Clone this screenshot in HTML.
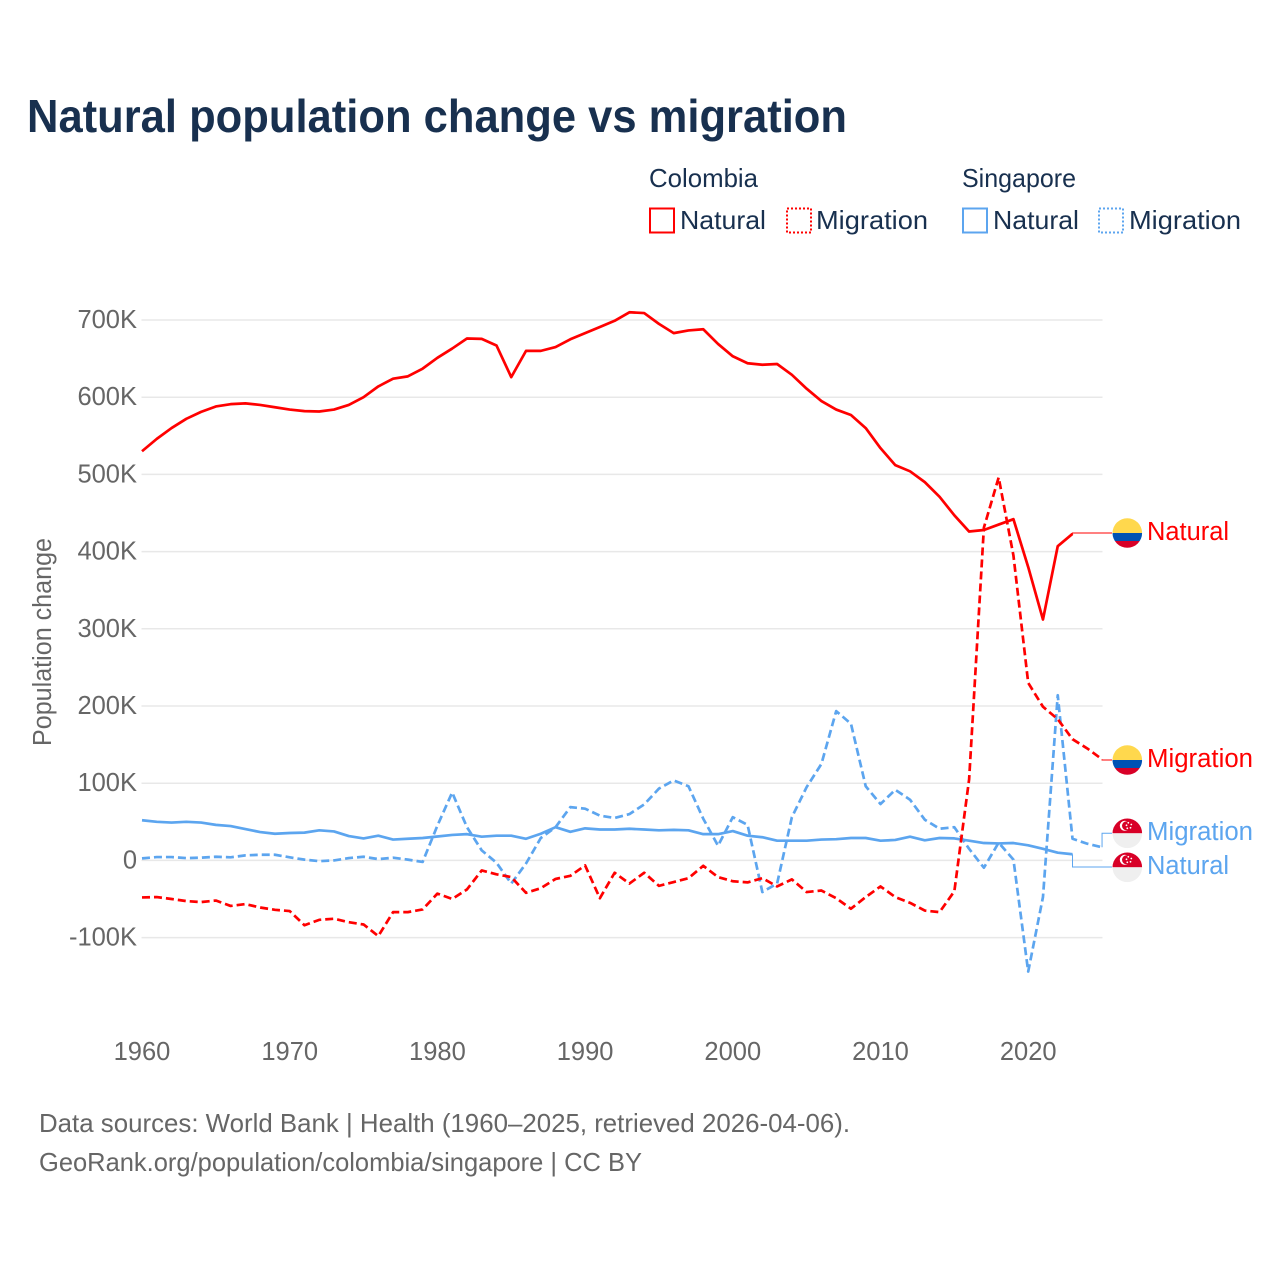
<!DOCTYPE html>
<html lang="en">
<head>
<meta charset="utf-8">
<title>Natural population change vs migration</title>
<style>
html,body{margin:0;padding:0;background:#fff;width:1280px;height:1280px;overflow:hidden}
svg{display:block}
text{font-family:"Liberation Sans",Arial,sans-serif}
.leg{fill:#18304f;font-size:26px}
.tick{fill:#666;font-size:25.5px}
.foot{fill:#666;font-size:26px}
</style>
</head>
<body>
<svg id="chart" xmlns="http://www.w3.org/2000/svg" width="1280" height="1280" viewBox="0 0 1280 1280">
  <defs>
    <clipPath id="flag-clip"><circle cx="0" cy="0" r="14.8"/></clipPath>
    <g id="flag-co">
      <g clip-path="url(#flag-clip)">
        <rect x="-15" y="-15" width="30" height="15" fill="#ffd84d"/>
        <rect x="-15" y="0" width="30" height="8" fill="#0052b4"/>
        <rect x="-15" y="8" width="30" height="7" fill="#d80027"/>
      </g>
    </g>
    <g id="flag-sg">
      <g clip-path="url(#flag-clip)">
        <rect x="-15" y="-15" width="30" height="15" fill="#d80027"/>
        <rect x="-15" y="0" width="30" height="15" fill="#efefef"/>
        <circle cx="-2.5" cy="-7.5" r="5" fill="#fff"/>
        <circle cx="-0.8" cy="-7.5" r="4.5" fill="#d80027"/>
        <circle cx="1" cy="-10.5" r="0.9" fill="#fff"/>
        <circle cx="4" cy="-8.8" r="0.9" fill="#fff"/>
        <circle cx="3.2" cy="-5.5" r="0.9" fill="#fff"/>
        <circle cx="0" cy="-5" r="0.9" fill="#fff"/>
        <circle cx="-0.8" cy="-8" r="0.9" fill="#fff"/>
      </g>
    </g>
  </defs>

  <text x="27" y="132" font-size="46" font-weight="700" fill="#18304f" textLength="820" lengthAdjust="spacingAndGlyphs">Natural population change vs migration</text>

  <g>
    <text class="leg" x="649" y="187" textLength="109" lengthAdjust="spacingAndGlyphs">Colombia</text>
    <text class="leg" x="962" y="187" textLength="114" lengthAdjust="spacingAndGlyphs">Singapore</text>
    <g>
      <rect x="650" y="208.5" width="24" height="24" fill="none" stroke="#ff0000" stroke-width="2"/>
      <text class="leg" x="680" y="229" textLength="86" lengthAdjust="spacingAndGlyphs">Natural</text>
    </g>
    <g>
      <rect x="787" y="208.5" width="24" height="24" fill="none" stroke="#ff0000" stroke-width="2" stroke-dasharray="2 2"/>
      <text class="leg" x="816" y="229" textLength="112" lengthAdjust="spacingAndGlyphs">Migration</text>
    </g>
    <g>
      <rect x="963" y="208.5" width="24" height="24" fill="none" stroke="#5ca5ef" stroke-width="2"/>
      <text class="leg" x="993" y="229" textLength="86" lengthAdjust="spacingAndGlyphs">Natural</text>
    </g>
    <g>
      <rect x="1099" y="208.5" width="24" height="24" fill="none" stroke="#5ca5ef" stroke-width="2" stroke-dasharray="2 2"/>
      <text class="leg" x="1129" y="229" textLength="112" lengthAdjust="spacingAndGlyphs">Migration</text>
    </g>
  </g>

  <g id="grid"></g>
  <g id="y-ticks"></g>
  <g id="x-ticks"></g>
  <text transform="translate(51,746) rotate(-90)" x="0" y="0" font-size="25.5" fill="#666" textLength="208" lengthAdjust="spacingAndGlyphs">Population change</text>

  <g id="connectors"></g>
  <g id="series"></g>

  <g>
    <use href="#flag-co" x="1127.3" y="533"/>
    <text x="1147" y="540" font-size="25.5" fill="#ff0000" textLength="82" lengthAdjust="spacingAndGlyphs">Natural</text>
  </g>
  <g>
    <use href="#flag-co" x="1127.3" y="760"/>
    <text x="1147" y="767" font-size="25.5" fill="#ff0000" textLength="106" lengthAdjust="spacingAndGlyphs">Migration</text>
  </g>
  <g>
    <use href="#flag-sg" x="1127.3" y="833.3"/>
    <text x="1147" y="840" font-size="25.5" fill="#5ca5ef" textLength="106" lengthAdjust="spacingAndGlyphs">Migration</text>
  </g>
  <g>
    <use href="#flag-sg" x="1127.3" y="867.3"/>
    <text x="1147" y="874" font-size="25.5" fill="#5ca5ef" textLength="82" lengthAdjust="spacingAndGlyphs">Natural</text>
  </g>

  <text class="foot" x="39" y="1132" textLength="811" lengthAdjust="spacingAndGlyphs">Data sources: World Bank | Health (1960–2025, retrieved 2026-04-06).</text>
  <text class="foot" x="39" y="1171" textLength="603" lengthAdjust="spacingAndGlyphs">GeoRank.org/population/colombia/singapore | CC BY</text>
</svg>
<script>
const firstYear = 1960;
const yTickValues = [-100, 0, 100, 200, 300, 400, 500, 600, 700];
const yTickLabels = ['-100K', '0', '100K', '200K', '300K', '400K', '500K', '600K', '700K'];
const xTickValues = [1960, 1970, 1980, 1990, 2000, 2010, 2020];
const xTickLabels = ['1960', '1970', '1980', '1990', '2000', '2010', '2020'];

// Values in thousands, one per year starting at firstYear
const colombiaNatural = [530,546,560,572,581,588,591,592,590,587,584,582,581.5,584,590,600,614,624,627,637,651,663,676,675.5,667,626,660,660,665,675,683,691,699,710,709,695,683,686.5,688,669,653,644,642,643,629,611,595,584,577,560,534,512,504,490,471,447,426,428,435,442,380,312,407,423];
const colombiaMigration = [-48,-47.5,-50,-52.7,-54,-52,-59,-56.6,-61,-64,-65.6,-84,-77,-75.6,-80,-83,-98,-67,-67,-63.5,-43,-50,-37.6,-13,-18,-21.6,-42,-36,-24,-20,-6.5,-49,-16,-30,-16,-33,-28,-23,-7,-21.6,-27,-28.5,-23,-33.7,-24.6,-41,-39,-49,-62.6,-47.5,-33.7,-47.5,-55,-65,-67,-40,105,431,496,395,230,199,183,157,145,131];
const singaporeNatural = [52,50,49,50,49,46,44.5,40.6,36.7,34.5,35.5,36,39,37.5,31.5,28.5,32,27,28,29,31,33,34,30.7,32,32,28,34.5,43,37,41.5,40,40,41,40,39,39.5,39,34,34,38,32,30,25.5,25.5,25.5,27,27.5,29,29,25.5,26.5,30.7,26,29,28.5,25.5,22.5,22,22.5,19.5,15,10,8];
const singaporeMigration = [2.6,4.3,4.3,3,3.5,4.7,4,6.5,7.3,7.3,4,1,-1,0,3,4.7,1.7,3.5,1,-2,45,88,43,13,-3,-30,-4,29,43,69,67,58,55,60,72.5,93,103.6,96,54,19,56,46,-41,-30,56,95,125,193.4,177,96,73,91.5,78.6,52.7,41,43,15,-9.5,23,1,-144,-47.5,214,28,21.6,17];

const svgNS = 'http://www.w3.org/2000/svg';
const xScale = function (year) { return 142 + (year - 1960) * 14.77; };
const yScale = function (value) { return 860.4 - value * 0.772; };

const gridGroup = document.getElementById('grid');
const yTickGroup = document.getElementById('y-ticks');
const xTickGroup = document.getElementById('x-ticks');
const seriesGroup = document.getElementById('series');
const connectorGroup = document.getElementById('connectors');

yTickValues.forEach(function (value, i) {
  const line = document.createElementNS(svgNS, 'line');
  line.setAttribute('x1', 141.5);
  line.setAttribute('x2', 1102.5);
  line.setAttribute('y1', yScale(value));
  line.setAttribute('y2', yScale(value));
  line.setAttribute('stroke', '#e8e8e8');
  line.setAttribute('stroke-width', 1.5);
  
  
  gridGroup.appendChild(line);

  const label = document.createElementNS(svgNS, 'text');
  label.setAttribute('class', 'tick');
  label.setAttribute('x', 137);
  label.setAttribute('y', yScale(value) + 8);
  label.setAttribute('text-anchor', 'end');
  label.textContent = yTickLabels[i];
  
  
  yTickGroup.appendChild(label);
});

xTickValues.forEach(function (year, i) {
  const label = document.createElementNS(svgNS, 'text');
  label.setAttribute('class', 'tick');
  label.setAttribute('x', xScale(year));
  label.setAttribute('y', 1060);
  label.setAttribute('text-anchor', 'middle');
  label.textContent = xTickLabels[i];
  
  
  xTickGroup.appendChild(label);
});

function linePoints(values) {
  return values.map(function (value, i) {
    return xScale(firstYear + i).toFixed(2) + ',' + yScale(value).toFixed(2);
  }).join(' ');
}

function addSeries(values, color, dash) {
  const line = document.createElementNS(svgNS, 'polyline');
  line.setAttribute('points', linePoints(values));
  line.setAttribute('fill', 'none');
  line.setAttribute('stroke', color);
  line.setAttribute('stroke-width', 2.7);
  line.setAttribute('stroke-linejoin', 'round');
  if (dash) line.setAttribute('stroke-dasharray', dash);
  seriesGroup.appendChild(line);
  return line;
}

function addConnector(values, color, labelY, stepX) {
  const endX = xScale(firstYear + values.length - 1);
  const endY = yScale(values[values.length - 1]);
  const path = document.createElementNS(svgNS, 'polyline');
  path.setAttribute('points', [endX, endY, stepX, endY, stepX, labelY, 1112, labelY].join(' '));
  path.setAttribute('fill', 'none');
  path.setAttribute('stroke', color);
  path.setAttribute('stroke-width', 1);
  connectorGroup.appendChild(path);
  return path;
}

const c1 = addConnector(colombiaNatural, '#ff0000', 533, xScale(firstYear + colombiaNatural.length - 1));


const c2 = addConnector(colombiaMigration, '#ff0000', 760, xScale(firstYear + colombiaMigration.length - 1));


const c3 = addConnector(singaporeNatural, '#5ca5ef', 867, xScale(firstYear + singaporeNatural.length - 1));


const c4 = addConnector(singaporeMigration, '#5ca5ef', 833.3, xScale(firstYear + singaporeMigration.length - 1));



const s1 = addSeries(singaporeMigration, '#5ca5ef', '8 4');


const s2 = addSeries(singaporeNatural, '#5ca5ef', null);


const s3 = addSeries(colombiaMigration, '#ff0000', '8 4');


const s4 = addSeries(colombiaNatural, '#ff0000', null);


</script>
</body>
</html>
